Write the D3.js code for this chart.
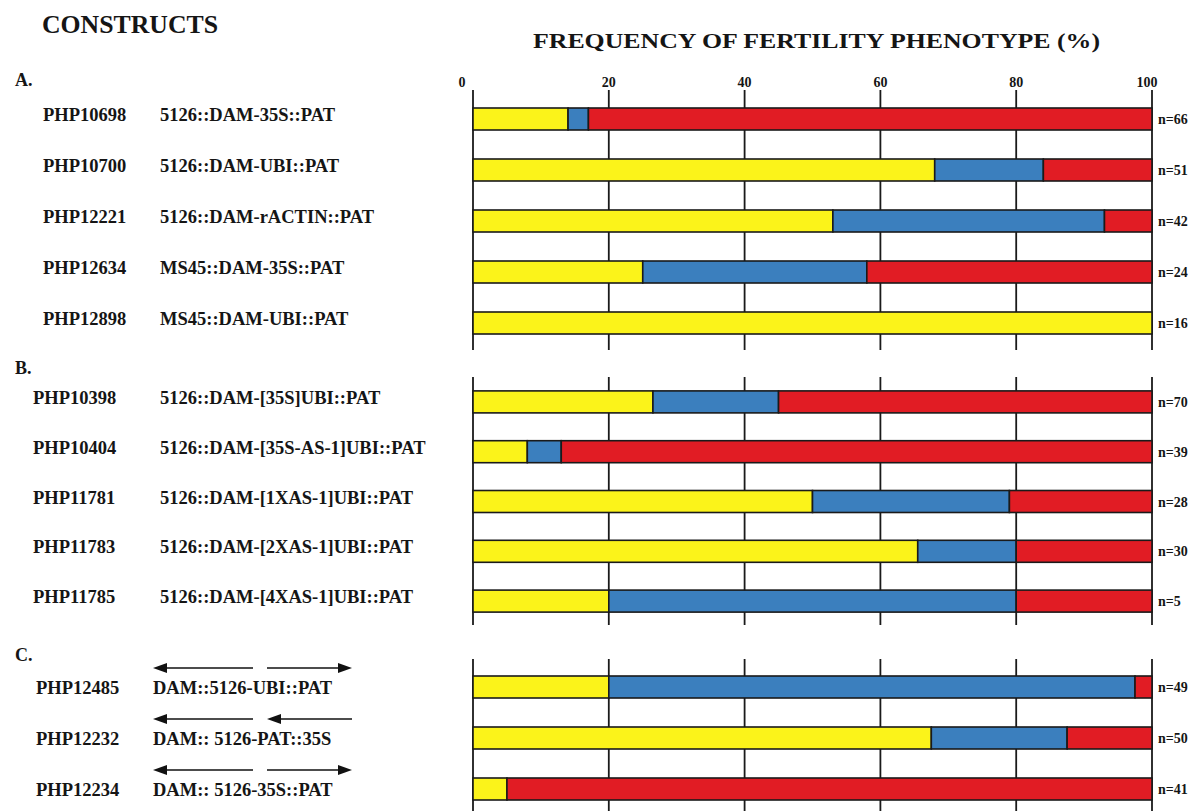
<!DOCTYPE html>
<html><head><meta charset="utf-8">
<script src="https://cdn.jsdelivr.net/npm/d3@7"></script>
<style>
body{margin:0;background:#fff}
svg{display:block}
text{font-family:"Liberation Serif","Times New Roman",serif;font-weight:bold;fill:#151515}
</style>
</head><body><svg id="c" width="1195" height="811"></svg>
<script>
// ---------------- data ----------------
const sections = ["A", "B", "C"];
const rowSection = ["A","A","A","A","A","B","B","B","B","B","C","C","C"];
const constructIds = ["PHP10698","PHP10700","PHP12221","PHP12634","PHP12898",
  "PHP10398","PHP10404","PHP11781","PHP11783","PHP11785",
  "PHP12485","PHP12232","PHP12234"];
const constructNames = ["5126::DAM-35S::PAT","5126::DAM-UBI::PAT","5126::DAM-rACTIN::PAT",
  "MS45::DAM-35S::PAT","MS45::DAM-UBI::PAT",
  "5126::DAM-[35S]UBI::PAT","5126::DAM-[35S-AS-1]UBI::PAT","5126::DAM-[1XAS-1]UBI::PAT",
  "5126::DAM-[2XAS-1]UBI::PAT","5126::DAM-[4XAS-1]UBI::PAT",
  "DAM::5126-UBI::PAT","DAM:: 5126-PAT::35S","DAM:: 5126-35S::PAT"];
const pctYellow = [14, 68, 53, 25, 100, 26.5, 8, 50, 65.5, 20, 20, 67.5, 5];
const pctBlue   = [3, 16, 40, 33, 0, 18.5, 5, 29, 14.5, 60, 77.5, 20, 0];
const pctRed    = [83, 16, 7, 42, 0, 55, 87, 21, 20, 20, 2.5, 12.5, 95];
const nValues   = [66, 51, 42, 24, 16, 70, 39, 28, 30, 5, 49, 50, 41];
const arrowDirs = [null,null,null,null,null,null,null,null,null,null,
  ["left","right"], ["left","left"], ["left","right"]];
const tickValues = [0, 20, 40, 60, 80, 100];
const colorKeys = ["yellow", "blue", "red"];
const colorValues = ["#fbf31a", "#3b7fbe", "#e11c24"];

// ---------------- layout ----------------
const layout = {
  A: {range: [93.5, 348.5], lineTop: 90, lineBottom: 350, letterY: 86, idX: 43, nameX: 160},
  B: {range: [377, 626], lineTop: 377, lineBottom: 625, letterY: 374, idX: 33, nameX: 160},
  C: {range: [661.5, 814.5], lineTop: 659, lineBottom: 811, letterY: 661, idX: 36, nameX: 153}
};
const barH = 22;

const rows = constructIds.map((id, i) => ({
  id, name: constructNames[i], section: rowSection[i],
  yellow: pctYellow[i], blue: pctBlue[i], red: pctRed[i], n: nValues[i], arrows: arrowDirs[i]
}));

const svg = d3.select("#c");
const x = d3.scaleLinear().domain([0, 100]).range([473, 1152]);
const color = d3.scaleOrdinal().domain(colorKeys).range(colorValues);

// titles
svg.append("text").attr("x", 42).attr("y", 33).attr("font-size", 25)
  .attr("textLength", 176).attr("lengthAdjust", "spacingAndGlyphs").text("CONSTRUCTS");
svg.append("text").attr("x", 533).attr("y", 48).attr("font-size", 21)
  .attr("textLength", 567).attr("lengthAdjust", "spacingAndGlyphs")
  .text("FREQUENCY OF FERTILITY PHENOTYPE (%)");

// tick labels (top of section A)
svg.append("g").selectAll("text").data(tickValues).join("text")
  .attr("x", d => x(d) + (d === 0 ? -11 : d === 100 ? -5 : 0))
  .attr("y", 87).attr("text-anchor", "middle").attr("font-size", 14)
  .text(d => d);

const stack = d3.stack().keys(colorKeys);

sections.forEach(sec => {
  const L = layout[sec];
  const secRows = rows.filter(r => r.section === sec);
  const p = 1 - barH / ((L.range[1] - L.range[0]) / secRows.length);
  const y = d3.scaleBand().domain(secRows.map(r => r.id)).range(L.range)
    .paddingInner(p).paddingOuter(p / 2);
  const g = svg.append("g");

  // vertical grid lines
  g.selectAll("line.grid").data(tickValues).join("line")
    .attr("class", "grid")
    .attr("x1", d => x(d)).attr("x2", d => x(d))
    .attr("y1", L.lineTop).attr("y2", L.lineBottom)
    .attr("stroke", "#1a1a1a").attr("stroke-width", 1.8);

  // stacked bars
  const series = stack(secRows);
  g.selectAll("g.series").data(series).join("g").attr("class", "series")
    .attr("fill", d => color(d.key))
    .selectAll("rect").data(d => d.filter(s => s[1] - s[0] > 0)).join("rect")
    .attr("x", d => x(d[0])).attr("width", d => x(d[1]) - x(d[0]))
    .attr("y", d => y(d.data.id)).attr("height", y.bandwidth())
    .attr("stroke", "#1a1a1a").attr("stroke-width", 1.6);

  // n labels
  g.selectAll("text.n").data(secRows).join("text").attr("class", "n")
    .attr("x", x(100) + 6).attr("y", d => y(d.id) + y.bandwidth() / 2 + 5)
    .attr("font-size", 14).text(d => "n=" + d.n);

  // section letter
  svg.append("text").attr("x", 15).attr("y", L.letterY).attr("font-size", 18).text(sec + ".");

  // construct labels
  g.selectAll("text.id").data(secRows).join("text").attr("class", "id")
    .attr("x", L.idX).attr("y", d => y(d.id) + y.bandwidth() / 2 + (sec === "C" ? 7 : 2))
    .attr("font-size", 18.5).text(d => d.id);
  g.selectAll("text.name").data(secRows).join("text").attr("class", "name")
    .attr("x", L.nameX).attr("y", d => y(d.id) + y.bandwidth() / 2 + (sec === "C" ? 7 : 2))
    .attr("font-size", 18.5).text(d => d.name);

  // orientation arrows
  const arrowSegs = [[153, 253], [267, 352]];
  secRows.filter(r => r.arrows).forEach(r => {
    const ay = y(r.id) + y.bandwidth() / 2 - 19;
    r.arrows.forEach((dir, k) => {
      const [a, b] = arrowSegs[k];
      const tip = dir === "left" ? a : b;
      const tail = dir === "left" ? b : a;
      const s = dir === "left" ? 1 : -1;
      g.append("line").attr("x1", tail).attr("x2", tip + s * 10)
        .attr("y1", ay).attr("y2", ay).attr("stroke", "#111").attr("stroke-width", 1.6);
      g.append("path")
        .attr("d", `M${tip},${ay} L${tip + s * 14},${ay - 5} L${tip + s * 14},${ay + 5} Z`)
        .attr("fill", "#111");
    });
  });
});
</script>
</body></html>
